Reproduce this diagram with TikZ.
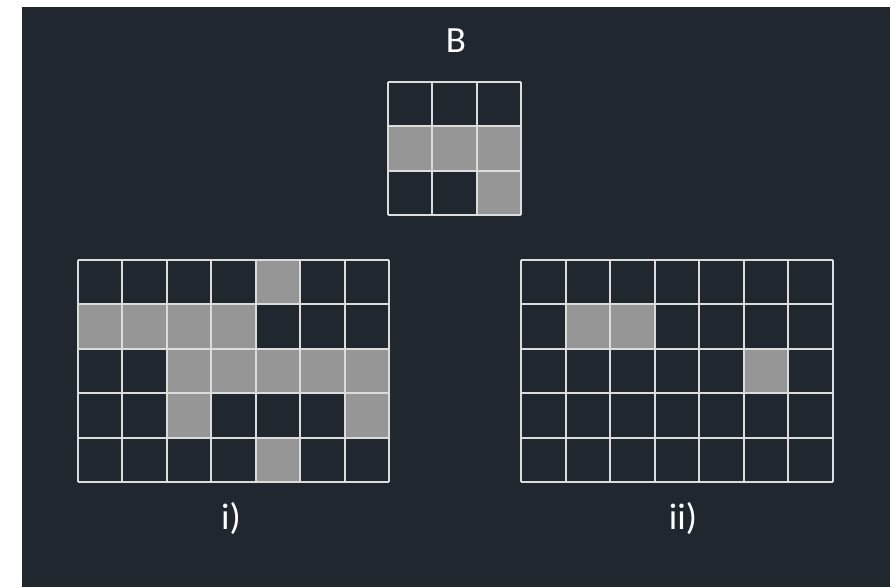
\documentclass[tikz,border=0pt]{standalone}
\usepackage{fontspec}
\setmainfont{Carlito}
\definecolor{bgdark}{HTML}{21272E}
\definecolor{cellgray}{HTML}{969696}
\definecolor{gridline}{HTML}{DCDCDC}
\tikzset{
  cellfill/.style={fill=cellgray},
  gridlines/.style={draw=gridline, line width=2pt},
  labeltext/.style={text=white, font=\fontsize{37}{44}\selectfont, inner sep=0pt, anchor=base}
}
\newcommand{\gridcell}[4]{% x0 y0 col row
  \fill[cellfill] ({#1+#3*44.5},{#2+#4*44.5}) rectangle ++(44.5,44.5);}
\newcommand{\cellgrid}[4]{% x0 y0 cols rows
  \foreach \k in {0,...,#3}
    \draw[gridlines] ({#1+\k*44.5},#2) -- ({#1+\k*44.5},{#2+#4*44.5});
  \foreach \k in {0,...,#4}
    \draw[gridlines] (#1,{#2+\k*44.5}) -- ({#1+#3*44.5},{#2+\k*44.5});}
\begin{document}
\begin{tikzpicture}[x=1pt,y=-1pt]
\useasboundingbox (0,0) rectangle (896,587);
\fill[white] (0,0) rectangle (896,587);
\fill[bgdark] (22,7) rectangle (890,587);
% B grid
\foreach \c/\r in {0/1, 1/1, 2/1, 2/2}
  {\gridcell{387.5}{81.7}{\c}{\r}}
\cellgrid{387.5}{81.7}{3}{3}
% grid i
\foreach \c/\r in {4/0, 0/1, 1/1, 2/1, 3/1, 2/2, 3/2, 4/2, 5/2, 6/2, 2/3, 6/3, 4/4}
  {\gridcell{77.5}{259.8}{\c}{\r}}
\cellgrid{77.5}{259.8}{7}{5}
% grid ii
\foreach \c/\r in {1/1, 2/1, 5/2}
  {\gridcell{521}{259.8}{\c}{\r}}
\cellgrid{521}{259.8}{7}{5}
\node[labeltext] (labB) at (456,52) {B};
\node[labeltext] (labi) at (231,529) {i)};
\node[labeltext] (labii) at (683,529) {ii)};
\end{tikzpicture}
\end{document}
